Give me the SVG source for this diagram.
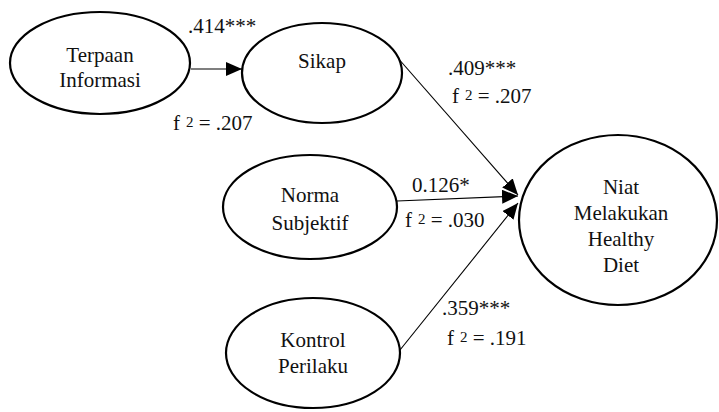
<svg xmlns="http://www.w3.org/2000/svg" width="719" height="412" viewBox="0 0 719 412">
<style>
.node ellipse { fill: #fff; stroke: #000; stroke-width: 2.2; }
.node text { font-family: 'Liberation Serif', 'DejaVu Serif', serif; font-size: 21px; fill: #111; text-anchor: middle; }
.lbl { font-family: 'Liberation Serif', 'DejaVu Serif', serif; font-size: 21px; fill: #111; }
.sup { font-size: 15px; }
.edge { stroke: #000; stroke-width: 1.1; fill: none; }
</style>
<defs>
<marker id="ah" markerUnits="userSpaceOnUse" markerWidth="18" markerHeight="16" refX="16" refY="7" orient="auto">
<path d="M0,0 L16,7 L0,14 Z" fill="#000"/>
</marker>
</defs>
<g id="connectors">
<line class="edge" x1="191" y1="69" x2="242" y2="69" style="stroke:#555;stroke-width:1.6" marker-end="url(#ah)"/>
<line class="edge" x1="397" y1="57" x2="518" y2="195" marker-end="url(#ah)"/>
<line class="edge" x1="397" y1="201" x2="518" y2="196" marker-end="url(#ah)"/>
<line class="edge" x1="400" y1="350" x2="518" y2="203" marker-end="url(#ah)"/>
</g>
<g id="n-terpaan" class="node">
<ellipse cx="100" cy="63" rx="90" ry="51"/>
<text x="100" y="62">Terpaan</text>
<text x="100" y="87">Informasi</text>
</g>
<g id="n-sikap" class="node">
<ellipse cx="322" cy="73" rx="80" ry="50"/>
<text x="322" y="68">Sikap</text>
</g>
<g id="n-norma" class="node">
<ellipse cx="310" cy="207" rx="87" ry="52"/>
<text x="310" y="202">Norma</text>
<text x="310" y="230">Subjektif</text>
</g>
<g id="n-kontrol" class="node">
<ellipse cx="313" cy="353" rx="87" ry="55"/>
<text x="313" y="347">Kontrol</text>
<text x="313" y="373">Perilaku</text>
</g>
<g id="n-niat" class="node">
<ellipse cx="618" cy="220" rx="99" ry="85"/>
<text x="621" y="194">Niat</text>
<text x="621" y="220">Melakukan</text>
<text x="621" y="246">Healthy</text>
<text x="621" y="272">Diet</text>
</g>
<g id="labels">
<text class="lbl" x="188" y="33">.414***</text>
<text class="lbl" x="173" y="130">f<tspan class="sup" dx="6" dy="-3">2</tspan><tspan dy="3"> = .207</tspan></text>
<text class="lbl" x="448" y="75">.409***</text>
<text class="lbl" x="452" y="103">f<tspan class="sup" dx="6" dy="-3">2</tspan><tspan dy="3"> = .207</tspan></text>
<text class="lbl" x="412" y="192">0.126*</text>
<text class="lbl" x="405" y="227">f<tspan class="sup" dx="6" dy="-3">2</tspan><tspan dy="3"> = .030</tspan></text>
<text class="lbl" x="442" y="315">.359***</text>
<text class="lbl" x="447" y="345">f<tspan class="sup" dx="6" dy="-3">2</tspan><tspan dy="3"> = .191</tspan></text>
</g>
</svg>
